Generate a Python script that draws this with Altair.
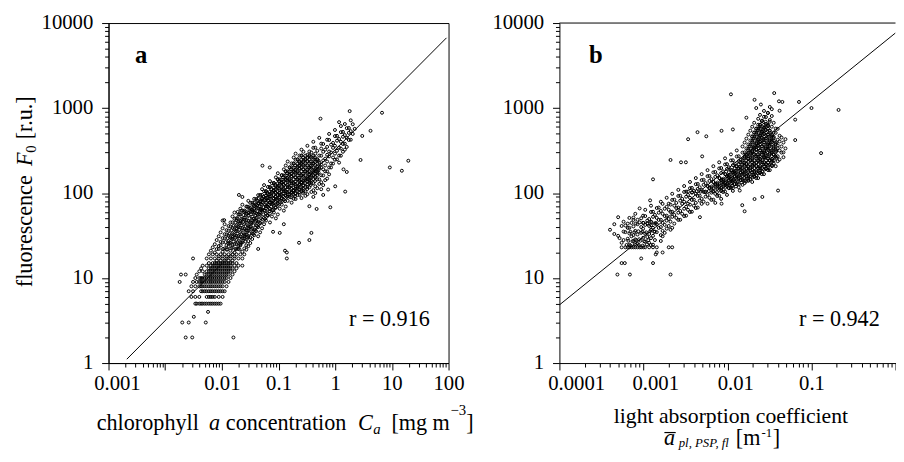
import altair as alt
import pandas as pd

FONT = "Liberation Serif"

# ---------------- data ----------------
# panel a: chlorophyll a concentration C_a [mg m-3] vs fluorescence F0 [r.u.]
pts_a = [
    (0.0023, 2), (0.003, 2), (0.016, 2), (0.002, 3), (0.0026, 3), (0.0052, 3), (0.0032, 3.5), (0.0057, 4),
    (0.0034, 5), (0.0036, 5), (0.004, 5), (0.0043, 5), (0.0046, 5), (0.005, 5), (0.0054, 5), (0.0059, 5), (0.0064, 5), (0.0069, 5), (0.0075, 5), (0.0081, 5), (0.0088, 5), (0.0095, 5),
    (0.0029, 6), (0.0034, 6), (0.004, 6), (0.0054, 6), (0.0064, 6), (0.0075, 6), (0.0088, 6), (0.0103, 6),
    (0.0026, 7), (0.0031, 7), (0.0043, 7), (0.005, 7), (0.0059, 7), (0.0069, 7), (0.0081, 7), (0.0095, 7), (0.0112, 7),
    (0.0029, 8), (0.0034, 8), (0.004, 8), (0.0046, 8), (0.0054, 8), (0.0064, 8), (0.0075, 8), (0.0088, 8), (0.0103, 8), (0.0121, 8),
    (0.0018, 9), (0.0031, 9), (0.0036, 9), (0.0043, 9), (0.005, 9), (0.0059, 9), (0.0069, 9), (0.0081, 9), (0.0095, 9), (0.0112, 9), (0.0131, 9),
    (0.0034, 10), (0.004, 10), (0.0046, 10), (0.0054, 10), (0.0064, 10), (0.0075, 10), (0.0088, 10), (0.0103, 10), (0.0121, 10), (0.0142, 10),
    (0.0019, 11), (0.0023, 11), (0.0036, 11), (0.005, 11), (0.0059, 11), (0.0069, 11), (0.0081, 11), (0.0095, 11), (0.0112, 11), (0.0131, 11), (0.0154, 11),
    (0.004, 12), (0.0046, 12), (0.0054, 12), (0.0064, 12), (0.0075, 12), (0.0088, 12), (0.0103, 12), (0.0121, 12), (0.0142, 12), (0.0167, 12),
    (0.0043, 13), (0.0059, 13), (0.0069, 13), (0.0081, 13), (0.0095, 13), (0.0112, 13), (0.0131, 13), (0.0154, 13), (0.0181, 13),
    (0.0046, 14), (0.0054, 14), (0.0064, 14), (0.0075, 14), (0.0088, 14), (0.0103, 14), (0.0121, 14), (0.0142, 14), (0.0167, 14), (0.0196, 14), (0.023, 14),
    (0.0059, 15), (0.0069, 15), (0.0081, 15), (0.0095, 15), (0.0112, 15), (0.0131, 15), (0.0154, 15), (0.0181, 15),
    (0.0031, 17), (0.0054, 17), (0.0064, 17), (0.0075, 17), (0.0088, 17), (0.0103, 17), (0.0121, 17), (0.0142, 17), (0.0167, 17), (0.0196, 17), (0.023, 17), (0.14, 17),
    (0.0059, 19), (0.0069, 19), (0.0081, 19), (0.0095, 19), (0.0112, 19), (0.0131, 19), (0.0154, 19), (0.0181, 19), (0.0212, 19), (0.0249, 19),
    (0.0064, 21), (0.0075, 20), (0.0088, 22), (0.0103, 20.4), (0.0121, 21.6), (0.0142, 21), (0.0167, 20), (0.0196, 22), (0.023, 20.4), (0.027, 21.6), (0.0437, 22), (0.13, 21), (0.14, 20),
    (0.0069, 23), (0.0081, 21.9), (0.0095, 24.2), (0.0112, 22.3), (0.0131, 23.7), (0.0154, 23), (0.0181, 21.9), (0.0212, 24.2), (0.0249, 22.3), (0.0293, 23.7),
    (0.0075, 25), (0.0088, 23.8), (0.0103, 26.3), (0.0121, 24.3), (0.0142, 25.8), (0.0167, 25), (0.0196, 23.8), (0.023, 26.3), (0.027, 24.3), (0.0317, 25.8), (0.23, 26),
    (0.0081, 28), (0.0095, 26.6), (0.0112, 29.4), (0.0131, 27.2), (0.0154, 28.8), (0.0181, 28), (0.0212, 26.6), (0.0249, 29.4), (0.0293, 27.2), (0.0343, 28.8), (0.35, 28),
    (0.0088, 31), (0.0103, 29.5), (0.0121, 32.6), (0.0142, 30.1), (0.0167, 31.9), (0.0196, 31), (0.023, 29.5), (0.027, 32.6), (0.0317, 30.1), (0.0372, 31.9), (0.0437, 31),
    (0.0095, 34.5), (0.0112, 32.8), (0.0131, 36.2), (0.0154, 33.5), (0.0181, 35.5), (0.0212, 34.5), (0.0249, 32.8), (0.0293, 36.2), (0.0343, 33.5), (0.0403, 35.5), (0.0473, 34.5), (0.08, 35), (0.105, 34), (0.38, 34),
    (0.0103, 38.5), (0.0121, 36.6), (0.0142, 40.4), (0.0167, 37.3), (0.0196, 39.7), (0.023, 38.5), (0.027, 36.6), (0.0317, 40.4), (0.0372, 37.3), (0.0437, 39.7), (0.0512, 38.5),
    (0.0112, 43), (0.0131, 40.9), (0.0154, 45.2), (0.0181, 41.7), (0.0212, 44.3), (0.0249, 43), (0.0293, 40.9), (0.0343, 45.2), (0.0403, 41.7), (0.0473, 44.3), (0.0555, 43), (0.124, 43),
    (0.0103, 47.5), (0.0142, 45.1), (0.0167, 49.9), (0.0196, 46.1), (0.023, 48.9), (0.027, 47.5), (0.0317, 45.1), (0.0372, 49.9), (0.0437, 46.1), (0.0512, 48.9), (0.0601, 47.5), (0.0706, 45.1), (0.011, 48),
    (0.0154, 53), (0.0181, 50.4), (0.0212, 55.7), (0.0249, 51.4), (0.0293, 54.6), (0.0343, 53), (0.0403, 50.4), (0.0473, 55.7), (0.0555, 51.4), (0.0651, 54.6), (0.0765, 53), (0.0897, 50.4),
    (0.0167, 59), (0.0196, 56), (0.023, 62), (0.027, 57.2), (0.0317, 60.8), (0.0372, 59), (0.0437, 56), (0.0512, 62), (0.0601, 57.2), (0.0706, 60.8), (0.0828, 59), (0.0972, 56), (0.019, 60),
    (0.0212, 65.5), (0.0249, 62.2), (0.0293, 68.8), (0.0343, 63.5), (0.0403, 67.5), (0.0473, 65.5), (0.0555, 62.2), (0.0651, 68.8), (0.0765, 63.5), (0.0897, 67.5), (0.105, 65.5), (0.124, 62.2), (0.47, 65),
    (0.023, 73), (0.027, 69.4), (0.0317, 76.7), (0.0372, 70.8), (0.0437, 75.2), (0.0512, 73), (0.0601, 69.4), (0.0706, 76.7), (0.0828, 70.8), (0.0972, 75.2), (0.114, 73), (0.134, 69.4), (0.35, 70), (0.82, 68),
    (0.0293, 81), (0.0343, 77), (0.0403, 85), (0.0473, 78.6), (0.0555, 83.4), (0.0651, 81), (0.0765, 77), (0.0897, 85), (0.105, 78.6), (0.124, 83.4), (0.145, 81), (0.17, 77), (0.2, 85),
    (0.023, 90), (0.0372, 85.5), (0.0437, 94.5), (0.0512, 87.3), (0.0601, 92.7), (0.0706, 90), (0.0828, 85.5), (0.0972, 94.5), (0.114, 87.3), (0.134, 92.7), (0.157, 90), (0.185, 85.5), (0.217, 94.5), (0.254, 87.3), (0.298, 92.7), (0.411, 90),
    (0.02, 95), (0.0473, 95), (0.0555, 105), (0.0651, 97), (0.0765, 103), (0.0897, 100), (0.105, 95), (0.124, 105), (0.145, 97), (0.17, 103), (0.2, 100), (0.235, 95), (0.275, 105), (0.323, 97), (0.379, 103), (0.445, 100), (0.614, 95),
    (0.0512, 111), (0.0601, 105), (0.0706, 117), (0.0828, 108), (0.0972, 114), (0.114, 111), (0.134, 105), (0.157, 117), (0.185, 108), (0.217, 114), (0.254, 111), (0.298, 105), (0.35, 117), (0.411, 108), (0.483, 114), (0.566, 111), (0.75, 110), (1.5, 104),
    (0.0555, 124), (0.0651, 118), (0.0765, 130), (0.0897, 120), (0.105, 128), (0.124, 124), (0.145, 118), (0.17, 130), (0.2, 120), (0.235, 128), (0.275, 124), (0.323, 118), (0.379, 130), (0.445, 120), (0.523, 128), (0.614, 124), (1.0, 120),
    (0.0706, 138), (0.0828, 131), (0.0972, 145), (0.114, 134), (0.134, 142), (0.157, 138), (0.185, 131), (0.217, 145), (0.254, 134), (0.298, 142), (0.35, 138), (0.411, 131), (0.483, 145), (0.566, 134), (0.665, 142),
    (0.0897, 153), (0.105, 145), (0.124, 161), (0.145, 148), (0.17, 158), (0.2, 153), (0.235, 145), (0.275, 161), (0.323, 148), (0.379, 158), (0.445, 153), (0.523, 145), (0.614, 161), (0.72, 148),
    (0.0972, 171), (0.114, 162), (0.134, 180), (0.157, 166), (0.185, 176), (0.217, 171), (0.254, 162), (0.298, 180), (0.35, 166), (0.411, 176), (0.483, 171), (0.566, 162), (0.665, 180), (0.78, 166), (1.6, 177),
    (0.124, 190), (0.145, 180), (0.17, 200), (0.2, 184), (0.235, 196), (0.275, 190), (0.323, 180), (0.379, 200), (0.445, 184), (0.523, 196), (0.614, 190), (0.72, 180), (0.845, 200), (1.4, 190), (15, 183), (9.2, 200), (0.07, 200), (0.052, 210),
    (0.134, 211), (0.157, 200), (0.185, 222), (0.217, 205), (0.254, 217), (0.298, 211), (0.35, 200), (0.411, 222), (0.483, 205), (0.566, 217), (0.665, 211), (0.78, 200), (0.916, 222),
    (0.145, 235), (0.17, 223), (0.2, 247), (0.235, 228), (0.275, 242), (0.323, 235), (0.379, 223), (0.445, 247), (0.523, 228), (0.614, 242), (0.72, 235), (0.845, 223), (0.99, 247), (1.17, 228), (2.8, 245), (19.5, 240),
    (0.185, 262), (0.217, 249), (0.254, 275), (0.298, 254), (0.35, 270), (0.411, 262), (0.483, 249), (0.566, 275), (0.665, 254), (0.78, 270), (0.916, 262), (1.075, 249), (1.26, 275),
    (0.2, 291), (0.235, 276), (0.275, 306), (0.323, 282), (0.379, 300), (0.445, 291), (0.523, 276), (0.614, 306), (0.72, 282), (0.845, 300), (0.99, 291), (1.17, 276), (1.37, 306),
    (0.254, 324), (0.35, 308), (0.411, 340), (0.483, 314), (0.566, 334), (0.665, 324), (0.78, 308), (0.916, 340), (1.075, 314), (1.26, 334), (1.48, 324),
    (0.323, 360), (0.445, 342), (0.614, 378), (0.72, 349), (0.845, 371), (0.99, 360), (1.17, 342), (1.37, 378), (1.6, 349),
    (0.411, 401), (0.566, 381), (0.78, 421), (0.916, 389), (1.075, 413), (1.26, 401), (1.48, 381), (1.74, 421),
    (0.523, 446), (0.72, 424), (0.99, 468), (1.17, 433), (1.37, 459), (1.6, 446), (1.88, 424), (3.0, 470),
    (0.78, 496), (1.075, 471), (1.26, 521), (1.48, 481), (1.74, 511), (2.04, 496),
    (0.99, 552), (1.37, 524), (1.6, 580), (1.88, 535), (2.21, 569), (4.2, 540),
    (1.26, 614), (1.74, 583), (2.04, 645), (1.17, 683), (1.48, 649), (1.88, 717),
    (0.55, 750), (6.7, 880), (1.8, 920),
]
# panel a: points of the dark (overlapping) core of the cloud
pts_a_core = [
    (0.0059, 6), (0.0069, 6),
    (0.0046, 7), (0.0054, 7), (0.0064, 7), (0.0075, 7), (0.0088, 7), (0.0103, 7),
    (0.0043, 8), (0.005, 8), (0.0059, 8), (0.0069, 8), (0.0081, 8), (0.0095, 8),
    (0.004, 9), (0.0046, 9), (0.0054, 9), (0.0064, 9), (0.0075, 9), (0.0088, 9), (0.0103, 9),
    (0.0043, 10), (0.005, 10), (0.0059, 10), (0.0069, 10), (0.0081, 10), (0.0095, 10), (0.0112, 10),
    (0.0054, 11), (0.0064, 11), (0.0075, 11), (0.0088, 11), (0.0103, 11), (0.0121, 11),
    (0.0059, 12), (0.0069, 12), (0.0081, 12), (0.0095, 12), (0.0112, 12), (0.0131, 12),
    (0.0064, 13), (0.0075, 13), (0.0088, 13), (0.0103, 13), (0.0121, 13), (0.0142, 13),
    (0.0069, 14), (0.0081, 14), (0.0095, 14), (0.0112, 14), (0.0131, 14),
    (0.0075, 15), (0.0088, 15), (0.0103, 15), (0.0121, 15), (0.0142, 15),
    (0.0081, 16), (0.0095, 16), (0.0112, 16), (0.0131, 16), (0.0154, 16),
    (0.0088, 18), (0.0103, 18), (0.0121, 18), (0.0142, 18), (0.0167, 18),
    (0.0131, 25.5), (0.0154, 24.5), (0.0181, 25.2), (0.0212, 24.8),
    (0.0131, 31.5), (0.0154, 30.5), (0.0181, 31.2), (0.0212, 30.8), (0.0249, 31.5), (0.0293, 30.5),
    (0.0154, 39), (0.0181, 38), (0.0212, 39.3), (0.0249, 37.8), (0.0293, 39), (0.0343, 38),
    (0.0181, 48), (0.0212, 47), (0.0249, 48.5), (0.0293, 46.8), (0.0343, 48), (0.0403, 47),
    (0.0249, 59.5), (0.0293, 58.5), (0.0343, 60), (0.0403, 58), (0.0473, 59.5),
    (0.0317, 66), (0.0372, 65), (0.0437, 66.5), (0.0512, 64.5), (0.0601, 66), (0.0706, 65),
    (0.0372, 77), (0.0437, 76), (0.0512, 78), (0.0601, 76.5), (0.0706, 77.5), (0.0828, 77), (0.0972, 76),
    (0.0437, 86), (0.0512, 85), (0.0601, 87), (0.0706, 85.5), (0.0828, 86.5), (0.0972, 86), (0.114, 85),
    (0.0512, 95), (0.0601, 94), (0.0706, 96), (0.0828, 94.5), (0.0972, 95.5), (0.114, 95), (0.134, 94), (0.157, 96), (0.185, 95),
    (0.0601, 105), (0.0706, 104), (0.0828, 106), (0.0972, 104.5), (0.114, 105.5), (0.134, 105), (0.157, 104), (0.185, 106), (0.217, 104.5), (0.254, 105.5),
    (0.0706, 117), (0.0828, 116), (0.0972, 118), (0.114, 116.5), (0.134, 117.5), (0.157, 117), (0.185, 116), (0.217, 118), (0.254, 116.5), (0.298, 117.5),
    (0.0828, 131), (0.0972, 130), (0.114, 132), (0.134, 130.5), (0.157, 131.5), (0.185, 131), (0.217, 130), (0.254, 132), (0.298, 130.5), (0.35, 131.5),
    (0.0972, 145), (0.114, 144), (0.134, 146), (0.157, 144.5), (0.185, 145.5), (0.217, 145), (0.254, 144), (0.298, 146), (0.35, 144.5), (0.411, 145.5),
    (0.114, 162), (0.134, 161), (0.157, 163), (0.185, 161.5), (0.217, 162.5), (0.254, 162), (0.298, 161), (0.35, 163), (0.411, 161.5), (0.483, 162.5),
    (0.134, 180), (0.157, 179), (0.185, 181), (0.217, 179.5), (0.254, 180.5), (0.298, 180), (0.35, 179), (0.411, 181), (0.483, 179.5),
    (0.157, 200), (0.185, 199), (0.217, 201), (0.254, 199.5), (0.298, 200.5), (0.35, 200), (0.411, 199), (0.483, 201), (0.566, 199.5),
    (0.185, 223), (0.217, 222), (0.254, 224), (0.298, 222.5), (0.35, 223.5), (0.411, 223), (0.483, 222),
    (0.217, 248), (0.254, 247), (0.298, 249), (0.35, 247.5), (0.411, 248.5), (0.483, 248),
    (0.254, 276), (0.298, 275), (0.35, 277), (0.411, 275.5),
    # densest parts, between the rows above
    (0.0105, 22), (0.0125, 21.7), (0.0147, 22.3), (0.0174, 22), (0.0205, 21.7),
    (0.0116, 26.5), (0.0136, 26.1), (0.016, 26.9), (0.0188, 26.5), (0.022, 26.1), (0.026, 26.9),
    (0.0126, 29.5), (0.0148, 29.1), (0.0174, 29.9), (0.0204, 29.5), (0.024, 29.1), (0.028, 29.9),
    (0.0136, 33), (0.016, 32.5), (0.0188, 33.5), (0.022, 33), (0.026, 32.5), (0.0305, 33.5), (0.036, 33),
    (0.0148, 36.5), (0.0174, 36), (0.0204, 37), (0.024, 36.5), (0.028, 36), (0.033, 37), (0.039, 36.5),
    (0.016, 41), (0.0188, 40.4), (0.022, 41.6), (0.026, 41), (0.0305, 40.4), (0.036, 41.6), (0.042, 41),
    (0.0174, 45), (0.0204, 44.3), (0.024, 45.7), (0.028, 45), (0.033, 44.3), (0.039, 45.7), (0.046, 45),
    (0.0188, 50.5), (0.022, 49.7), (0.026, 51.3), (0.0305, 50.5), (0.036, 49.7), (0.042, 51.3), (0.049, 50.5), (0.058, 49.7),
    (0.0204, 56), (0.024, 55.2), (0.028, 56.8), (0.033, 56), (0.039, 55.2), (0.046, 56.8), (0.054, 56), (0.063, 55.2),
    (0.022, 62), (0.026, 61), (0.0305, 63), (0.036, 62), (0.042, 61), (0.049, 63), (0.058, 62), (0.068, 61), (0.08, 63),
    (0.028, 69), (0.033, 68), (0.039, 70), (0.046, 69), (0.054, 68), (0.063, 70), (0.074, 69), (0.087, 68),
    (0.036, 73.5), (0.042, 72.5), (0.049, 74.5), (0.058, 73.5), (0.068, 72.5), (0.08, 74.5), (0.094, 73.5),
    (0.042, 81.5), (0.049, 80.3), (0.058, 82.7), (0.068, 81.5), (0.08, 80.3), (0.094, 82.7), (0.11, 81.5), (0.13, 80.3),
    (0.054, 90.5), (0.063, 89), (0.074, 92), (0.087, 90.5), (0.102, 89), (0.12, 92), (0.141, 90.5), (0.166, 89), (0.195, 92),
    (0.063, 100.5), (0.074, 99), (0.087, 102), (0.102, 100.5), (0.12, 99), (0.141, 102), (0.166, 100.5), (0.195, 99), (0.23, 102), (0.27, 100.5),
    (0.074, 111.5), (0.087, 110), (0.102, 113), (0.12, 111.5), (0.141, 110), (0.166, 113), (0.195, 111.5), (0.23, 110), (0.27, 113), (0.32, 111.5),
    (0.087, 124.5), (0.102, 122.6), (0.12, 126.4), (0.141, 124.5), (0.166, 122.6), (0.195, 126.4), (0.23, 124.5), (0.27, 122.6), (0.32, 126.4), (0.37, 124.5),
    (0.102, 138.5), (0.12, 136.4), (0.141, 140.6), (0.166, 138.5), (0.195, 136.4), (0.23, 140.6), (0.27, 138.5), (0.32, 136.4), (0.37, 140.6), (0.44, 138.5),
    (0.12, 153.5), (0.141, 151.2), (0.166, 155.8), (0.195, 153.5), (0.23, 151.2), (0.27, 155.8), (0.32, 153.5), (0.37, 151.2), (0.44, 155.8),
    (0.141, 171.5), (0.166, 169), (0.195, 174), (0.23, 171.5), (0.27, 169), (0.32, 174), (0.37, 171.5), (0.44, 169), (0.51, 174),
    (0.166, 190.5), (0.195, 187.6), (0.23, 193.4), (0.27, 190.5), (0.32, 187.6), (0.37, 193.4), (0.44, 190.5), (0.51, 187.6),
    (0.195, 211.5), (0.23, 208.3), (0.27, 214.7), (0.32, 211.5), (0.37, 208.3), (0.44, 214.7),
    (0.23, 235.5), (0.27, 232), (0.32, 239), (0.37, 235.5), (0.44, 232), (0.51, 239),
    (0.27, 262), (0.32, 258), (0.37, 266), (0.44, 262),
]

# panel b: light absorption coefficient a_pl,PSP,fl [m-1] vs fluorescence F0 [r.u.]
pts_b = [
    (0.00049, 11), (0.00069, 11), (0.0021, 11), (0.00055, 15), (0.0006, 15), (0.0013, 15), (0.00094, 17), (0.0014, 19), (0.00144, 20), (0.00169, 20),
    (0.00055, 23), (0.00061, 23), (0.00065, 23), (0.00068, 23), (0.00072, 23), (0.00076, 23), (0.0008, 23), (0.00085, 23), (0.0009, 23), (0.00094, 23), (0.001, 23), (0.00105, 23), (0.00117, 23), (0.0013, 23), (0.00144, 23), (0.002, 23), (0.0022, 23),
    (0.00055, 26), (0.00068, 24.7), (0.00076, 27.3), (0.00085, 25.2), (0.00105, 26.8), (0.00117, 26), (0.0013, 24.7), (0.00161, 27.3),
    (0.00052, 29.5), (0.00058, 28), (0.00072, 31), (0.00089, 28.6), (0.00111, 30.4), (0.00123, 29.5), (0.00137, 28), (0.00169, 31),
    (0.00045, 33), (0.0005, 31.4), (0.00061, 34.7), (0.00076, 32), (0.00094, 34), (0.00117, 33), (0.0013, 31.4), (0.00144, 34.7), (0.00161, 32), (0.00179, 34),
    (0.0004, 37), (0.00058, 35.2), (0.00065, 38.9), (0.0008, 35.9), (0.00099, 38.1), (0.00123, 37), (0.00137, 35.2), (0.00152, 38.9), (0.00169, 35.9), (0.00189, 38.1), (0.0021, 37),
    (0.00055, 41), (0.00068, 39), (0.00085, 43), (0.00094, 39.8), (0.00105, 42.2), (0.00117, 41), (0.0013, 39), (0.00144, 43), (0.00161, 39.8), (0.00179, 42.2), (0.002, 41), (0.0022, 39),
    (0.00045, 43), (0.00058, 46), (0.00065, 43.7), (0.00076, 48.3), (0.00099, 44.6), (0.00111, 47.4), (0.00123, 46), (0.00137, 43.7), (0.00152, 48.3), (0.00169, 44.6), (0.00189, 47.4), (0.0021, 46), (0.00233, 43.7), (0.0026, 48.3),
    (0.0005, 52), (0.00068, 51), (0.00085, 48.5), (0.00105, 53.6), (0.00117, 49.5), (0.0013, 52.5), (0.00144, 51), (0.00161, 48.5), (0.00179, 53.6), (0.002, 49.5), (0.0022, 52.5), (0.00246, 51), (0.00274, 48.5), (0.00305, 53.6), (0.0047, 52),
    (0.0008, 57), (0.00099, 54.2), (0.00123, 59.9), (0.00137, 55.3), (0.00152, 58.7), (0.00169, 57), (0.00189, 54.2), (0.0021, 59.9), (0.00233, 55.3), (0.0026, 58.7), (0.00289, 57), (0.00322, 54.2), (0.00358, 59.9),
    (0.0009, 66), (0.00105, 63.5), (0.0013, 60.3), (0.00144, 66.7), (0.00161, 61.6), (0.00179, 65.4), (0.002, 63.5), (0.0022, 60.3), (0.00246, 66.7), (0.00274, 61.6), (0.00305, 65.4), (0.00339, 63.5), (0.00377, 60.3), (0.0042, 66.7), (0.016, 61),
    (0.00123, 71), (0.00152, 67.5), (0.00169, 74.6), (0.00189, 68.9), (0.0021, 73.1), (0.00233, 71), (0.0026, 67.5), (0.00289, 74.6), (0.00322, 68.9), (0.00358, 73.1), (0.00398, 71), (0.00443, 67.5), (0.00493, 74.6), (0.015, 72),
    (0.00161, 79), (0.002, 75), (0.0022, 83), (0.00246, 76.6), (0.00274, 81.4), (0.00305, 79), (0.00339, 75), (0.00377, 83), (0.0042, 76.6), (0.00467, 81.4), (0.0052, 79), (0.00579, 75), (0.00644, 83), (0.00716, 76.6), (0.0085, 75),
    (0.0012, 82), (0.00189, 88), (0.00233, 83.6), (0.0026, 92.4), (0.00289, 85.4), (0.00322, 90.6), (0.00358, 88), (0.00398, 83.6), (0.00443, 92.4), (0.00493, 85.4), (0.00549, 90.6), (0.0061, 88), (0.00679, 83.6), (0.00756, 92.4), (0.00841, 85.4), (0.021, 85), (0.026, 90),
    (0.0022, 98), (0.00274, 93.1), (0.00305, 103), (0.00339, 95.1), (0.00377, 101), (0.0042, 98), (0.00467, 93.1), (0.0052, 103), (0.00579, 95.1), (0.00644, 101), (0.00716, 98), (0.00797, 93.1), (0.00887, 103), (0.00987, 95.1),
    (0.0026, 109), (0.00322, 104), (0.00358, 114), (0.00398, 106), (0.00443, 112), (0.00493, 109), (0.00549, 104), (0.0061, 114), (0.00679, 106), (0.00756, 112), (0.00841, 109), (0.00936, 104), (0.0104, 114), (0.0116, 106), (0.014, 107), (0.04, 107),
    (0.00305, 121), (0.00377, 115), (0.0042, 127), (0.00467, 117), (0.0052, 125), (0.00579, 121), (0.00644, 115), (0.00716, 127), (0.00797, 117), (0.00887, 125), (0.00987, 121), (0.011, 115), (0.0122, 127), (0.0136, 117), (0.0151, 125),
    (0.00358, 135), (0.00443, 128), (0.00493, 142), (0.00549, 131), (0.0061, 139), (0.00679, 135), (0.00756, 128), (0.00841, 142), (0.00936, 131), (0.0104, 139), (0.0116, 135), (0.0129, 128), (0.0144, 142), (0.016, 131), (0.0177, 139), (0.0197, 135),
    (0.0013, 145), (0.0042, 150), (0.0052, 143), (0.00579, 158), (0.00644, 146), (0.00716, 155), (0.00797, 150), (0.00887, 143), (0.00987, 158), (0.011, 146), (0.0122, 155), (0.0136, 150), (0.0151, 143), (0.0168, 158), (0.0187, 146), (0.0208, 155), (0.0232, 150),
    (0.00493, 167), (0.0061, 159), (0.00679, 175), (0.00756, 162), (0.00841, 172), (0.00936, 167), (0.0104, 159), (0.0116, 175), (0.0129, 162), (0.0144, 172), (0.016, 167), (0.0177, 159), (0.0197, 175), (0.022, 162), (0.0244, 172), (0.0272, 167),
    (0.00579, 186), (0.00716, 177), (0.00797, 195), (0.00887, 180), (0.00987, 192), (0.011, 186), (0.0122, 177), (0.0136, 195), (0.0151, 180), (0.0168, 192), (0.0187, 186), (0.0208, 177), (0.0232, 195), (0.0258, 180), (0.0287, 192), (0.0319, 186),
    (0.00679, 207), (0.00841, 197), (0.00936, 217), (0.0104, 201), (0.0116, 213), (0.0129, 207), (0.0144, 197), (0.016, 217), (0.0177, 201), (0.0197, 213), (0.022, 207), (0.0244, 197), (0.0272, 217), (0.0303, 201), (0.0337, 213), (0.0375, 207),
    (0.0028, 230), (0.0032, 230), (0.00797, 230), (0.00987, 219), (0.011, 242), (0.0122, 223), (0.0136, 237), (0.0151, 230), (0.0168, 219), (0.0187, 242), (0.0208, 223), (0.0232, 237), (0.0258, 230), (0.0287, 219), (0.0319, 242), (0.0355, 223), (0.0396, 237),
    (0.0021, 245), (0.00936, 256), (0.0116, 243), (0.0129, 269), (0.0144, 248), (0.016, 264), (0.0177, 256), (0.0197, 243), (0.022, 269), (0.0244, 248), (0.0272, 264), (0.0303, 256), (0.0337, 243), (0.0375, 269), (0.0417, 248), (0.0464, 264),
    (0.005, 270), (0.011, 285), (0.0136, 271), (0.0151, 299), (0.0168, 276), (0.0187, 294), (0.0208, 285), (0.0232, 271), (0.0258, 299), (0.0287, 276), (0.0319, 294), (0.0355, 285), (0.0396, 271), (0.044, 299), (0.037, 270), (0.13, 295),
    (0.0129, 317), (0.016, 301), (0.0177, 333), (0.0197, 307), (0.022, 327), (0.0244, 317), (0.0272, 301), (0.0303, 333), (0.0337, 307), (0.0375, 327), (0.0417, 317), (0.0464, 301),
    (0.0151, 353), (0.0168, 335), (0.0187, 371), (0.0208, 342), (0.0232, 364), (0.0258, 353), (0.0287, 335), (0.0319, 371), (0.0355, 342), (0.0396, 364), (0.044, 353), (0.049, 335),
    (0.016, 393), (0.0177, 373), (0.0197, 413), (0.022, 381), (0.0244, 405), (0.0272, 393), (0.0303, 373), (0.0337, 413), (0.0375, 381), (0.0417, 405), (0.0464, 393),
    (0.0034, 430), (0.0168, 437), (0.0187, 415), (0.0208, 459), (0.0232, 424), (0.0258, 450), (0.0287, 437), (0.0319, 415), (0.0355, 459), (0.0396, 424), (0.044, 450), (0.049, 430), (0.064, 420),
    (0.0056, 465), (0.0177, 487), (0.0197, 463), (0.022, 511), (0.0244, 472), (0.0272, 502), (0.0303, 487), (0.0337, 463), (0.0375, 511), (0.0417, 472),
    (0.0044, 520), (0.0085, 540), (0.0116, 560), (0.0187, 542), (0.0208, 515), (0.0232, 569), (0.0258, 526), (0.0287, 558), (0.0319, 542), (0.0355, 515), (0.0396, 569),
    (0.0197, 603), (0.022, 573), (0.0244, 633), (0.0272, 585), (0.0303, 621), (0.0337, 603), (0.0375, 573),
    (0.0208, 671), (0.0232, 637), (0.0258, 705), (0.0287, 651), (0.0319, 691), (0.0355, 671),
    (0.0168, 770), (0.0232, 747), (0.0258, 710), (0.0287, 784), (0.0319, 725), (0.064, 730),
    (0.0244, 831), (0.0272, 789), (0.0303, 873), (0.0337, 806),
    (0.0272, 925), (0.0303, 879), (0.0337, 971), (0.0417, 930),
    (0.022, 1000), (0.0319, 1030), (0.1, 1000), (0.025, 1100),
    (0.011, 1450), (0.036, 1500), (0.021, 1250), (0.045, 1180), (0.041, 1200), (0.071, 1180), (0.21, 950),
]
# panel b: points of the dark (overlapping) core of the cloud
pts_b_core = [
    (0.00065, 29), (0.0008, 28.5), (0.00099, 29.8), (0.00068, 33.5), (0.00085, 32.5), (0.00105, 33.2),
    (0.00061, 41.5), (0.00076, 40.5), (0.00076, 51.5), (0.00094, 50.5), (0.00111, 44), (0.00123, 41.8),
    (0.0061, 115), (0.00679, 114), (0.00756, 116), (0.00841, 114.5), (0.00936, 115.5), (0.0104, 115), (0.0116, 114),
    (0.00716, 128), (0.00797, 127), (0.00887, 129), (0.00987, 127.5), (0.011, 128.5), (0.0122, 128), (0.0136, 127),
    (0.00841, 142), (0.00936, 141), (0.0104, 143), (0.0116, 141.5), (0.0129, 142.5), (0.0144, 142), (0.016, 141), (0.0177, 143),
    (0.00987, 158), (0.011, 157), (0.0122, 159), (0.0136, 157.5), (0.0151, 158.5), (0.0168, 158), (0.0187, 157), (0.0208, 159),
    (0.0104, 176), (0.0116, 175), (0.0129, 177), (0.0144, 175.5), (0.016, 176.5), (0.0177, 176), (0.0197, 175), (0.022, 177), (0.0244, 175.5),
    (0.0122, 196), (0.0136, 195), (0.0151, 197), (0.0168, 195.5), (0.0187, 196.5), (0.0208, 196), (0.0232, 195), (0.0258, 197), (0.0287, 195.5),
    (0.0136, 218), (0.0151, 217), (0.0168, 219), (0.0187, 217.5), (0.0208, 218.5), (0.0232, 218), (0.0258, 217), (0.0287, 219), (0.0319, 217.5),
    (0.0151, 243), (0.0168, 242), (0.0187, 244), (0.0208, 242.5), (0.0232, 243.5), (0.0258, 243), (0.0287, 242), (0.0319, 244), (0.0355, 242.5),
    (0.016, 270), (0.0177, 269), (0.0197, 271), (0.022, 269.5), (0.0244, 270.5), (0.0272, 270), (0.0303, 269), (0.0337, 271),
    (0.0177, 300), (0.0197, 299), (0.022, 301), (0.0244, 299.5), (0.0272, 300.5), (0.0303, 300), (0.0337, 299), (0.0375, 301),
    (0.0187, 335), (0.0208, 334), (0.0232, 336), (0.0258, 334.5), (0.0287, 335.5), (0.0319, 335), (0.0355, 334), (0.0396, 336),
    (0.0197, 373), (0.022, 372), (0.0244, 374), (0.0272, 372.5), (0.0303, 373.5), (0.0337, 373), (0.0375, 372),
    (0.0208, 415), (0.0232, 414), (0.0258, 416), (0.0287, 414.5), (0.0319, 415.5), (0.0355, 415),
    (0.0197, 462), (0.022, 461), (0.0244, 463), (0.0272, 461.5), (0.0303, 462.5), (0.0337, 462),
    (0.0208, 514), (0.0232, 513), (0.0258, 515), (0.0287, 513.5), (0.0319, 514.5),
    (0.022, 572), (0.0244, 571), (0.0272, 573), (0.0303, 571.5),
    (0.0244, 636), (0.0272, 635), (0.0303, 637),
    # densest parts, between the rows above
    (0.00063, 24.5), (0.0007, 24.1), (0.00079, 24.9), (0.00088, 24.5), (0.00098, 24.1), (0.0011, 24.9), (0.00122, 24.5),
    (0.00066, 27.5), (0.00074, 27.1), (0.00082, 27.9), (0.00092, 27.5), (0.00102, 27.1), (0.00114, 27.9),
    (0.0007, 35), (0.00078, 34.5), (0.00087, 35.5), (0.00097, 35), (0.00108, 34.5), (0.0012, 35.5), (0.00134, 35),
    (0.00072, 44.5), (0.00081, 43.8), (0.0009, 45.2), (0.001, 44.5), (0.00112, 43.8), (0.00125, 45.2), (0.0014, 44.5),
    (0.0034, 104), (0.0038, 102.5), (0.0043, 105.5), (0.0048, 104), (0.0054, 102.5), (0.006, 105.5), (0.0067, 104), (0.0075, 102.5), (0.0084, 105.5),
    (0.0058, 121.5), (0.0065, 119.7), (0.0072, 123.3), (0.0081, 121.5), (0.009, 119.7), (0.0101, 123.3), (0.0113, 121.5), (0.0126, 119.7),
    (0.0068, 135), (0.0076, 133), (0.0085, 137), (0.0095, 135), (0.0106, 133), (0.0118, 137), (0.0132, 135), (0.0147, 133), (0.0165, 137),
    (0.0081, 150), (0.009, 147.8), (0.0101, 152.2), (0.0113, 150), (0.0126, 147.8), (0.0141, 152.2), (0.0158, 150), (0.0176, 147.8), (0.0197, 152.2), (0.022, 150),
    (0.0095, 167), (0.0106, 164.5), (0.0118, 169.5), (0.0132, 167), (0.0147, 164.5), (0.0165, 169.5), (0.0184, 167), (0.0205, 164.5), (0.023, 169.5), (0.0256, 167),
    (0.0113, 186), (0.0126, 183.2), (0.0141, 188.8), (0.0158, 186), (0.0176, 183.2), (0.0197, 188.8), (0.022, 186), (0.0245, 183.2), (0.0274, 188.8), (0.0305, 186),
    (0.0126, 207), (0.0141, 204), (0.0158, 210), (0.0176, 207), (0.0197, 204), (0.022, 210), (0.0245, 207), (0.0274, 204), (0.0305, 210), (0.034, 207),
    (0.0141, 230), (0.0158, 226.6), (0.0176, 233.4), (0.0197, 230), (0.022, 226.6), (0.0245, 233.4), (0.0274, 230), (0.0305, 226.6), (0.034, 233.4),
    (0.0158, 256), (0.0176, 252.2), (0.0197, 259.8), (0.022, 256), (0.0245, 252.2), (0.0274, 259.8), (0.0305, 256), (0.034, 252.2), (0.038, 259.8),
    (0.0165, 285), (0.0184, 280.8), (0.0205, 289.2), (0.023, 285), (0.0256, 280.8), (0.0285, 289.2), (0.0318, 285), (0.0355, 280.8),
    (0.0176, 317), (0.0197, 312.3), (0.022, 321.7), (0.0245, 317), (0.0274, 312.3), (0.0305, 321.7), (0.034, 317), (0.038, 312.3),
    (0.0184, 353), (0.0205, 347.8), (0.023, 358.2), (0.0256, 353), (0.0285, 347.8), (0.0318, 358.2), (0.0355, 353),
    (0.0197, 393), (0.022, 387.2), (0.0245, 398.8), (0.0274, 393), (0.0305, 387.2), (0.034, 398.8), (0.038, 393),
    (0.0205, 437), (0.023, 430.5), (0.0256, 443.5), (0.0285, 437), (0.0318, 430.5), (0.0355, 443.5),
    (0.022, 487), (0.0245, 479.8), (0.0274, 494.2), (0.0305, 487), (0.034, 479.8),
    (0.023, 542), (0.0256, 534), (0.0285, 550), (0.0318, 542),
    (0.0245, 603), (0.0274, 594), (0.0305, 612),
    (0.0256, 700), (0.0285, 690),
]

# regression lines (end points)
line_a_x = [0.00021, 92.0]
line_a_y = [1.11, 6700.0]
line_b_x = [0.0001, 1.0]
line_b_y = [4.83, 7650.0]

# panel tags and correlation coefficients (placed in data units)
tag_a, tag_a_x, tag_a_y = ["a"], [0.000375], [3350]
tag_b, tag_b_x, tag_b_y = ["b"], [0.000271], [3350]
r_a, r_a_x, r_a_y = ["r = 0.916"], [46.7], [2.76]
r_b, r_b_x, r_b_y = ["r = 0.942"], [0.65], [2.76]

# axis tick labels
x_a_label_vals = [0.001, 0.01, 0.1, 1, 10, 100]
x_a_label_text = ["0.001", "0.01", "0.1", "1", "10", "100"]
x_b_label_vals = [0.0001, 0.001, 0.01, 0.1]
x_b_label_text = ["0.0001", "0.001", "0.01", "0.1"]
y_label_vals = [1, 10, 100, 1000, 10000]
y_label_text = ["1", "10", "100", "1000", "10000"]

# axis title texts
ytitle_parts = ["fluorescence", "F", "0", "[r.u.]"]
xtitle_a_parts = ["chlorophyll", "a", "concentration", "C", "a", "[mg m", "\u22123", "]"]
xtitle_b_line1 = "light absorption coefficient"
xtitle_b_parts = ["a", "pl, PSP, fl", "[m", "-1", "]"]

# ---------------- helpers ----------------
MAJOR = "abs(log(datum.value) / LN10 - round(log(datum.value) / LN10)) < 0.001"
W_A, W_B, H = 345, 341, 345


def log_ticks(e0, e1):
    out = []
    for e in range(e0, e1):
        for k in range(1, 10):
            out.append(float(f"{k}e{e}"))
    out.append(float(f"1e{e1}"))
    return out


def lab_expr(vals, texts):
    s = "''"
    for v, t in zip(reversed(vals), reversed(texts)):
        s = f"abs(datum.value / {v!r} - 1) < 0.001 ? '{t}' : {s}"
    return s


def is_val(v):
    return f"abs(datum.value / {v!r} - 1) < 0.001"


def make_axis(vals, lvals, ltext, pad, offset=None):
    kw = dict(
        values=vals, labelExpr=lab_expr(lvals, ltext),
        tickSize={"condition": {"test": MAJOR, "value": 7}, "value": 4},
        title=None, grid=False, labelOverlap=False, labelFlush=False,
        labelPadding=pad, labelFont=FONT, labelFontSize=21, labelColor="black",
        domainColor="black", tickColor="black", tickWidth=1, domainWidth=1,
    )
    if offset is not None:
        kw["labelOffset"] = offset
    return alt.Axis(**kw)


def piece(s, x, y, size=22.5, style="normal", weight="normal", angle=0, align="left"):
    return alt.Chart(pd.DataFrame({"t": [s]})).mark_text(
        font=FONT, fontSize=size, fontStyle=style, fontWeight=weight, angle=angle,
        align=align, baseline="alphabetic", color="black"
    ).encode(text="t:N", x=alt.value(x), y=alt.value(y))


def panel(pts, xdom, width, xaxis, yaxis, lx, ly, tag, tx, ty, rr, rx, ry, extra):
    sx = alt.Scale(type="log", domain=xdom, nice=False)
    sy = alt.Scale(type="log", domain=[1, 10000], nice=False)
    X = alt.X("x:Q", scale=sx, axis=xaxis)
    Y = alt.Y("y:Q", scale=sy, axis=yaxis)
    p = alt.Chart(pd.DataFrame(pts, columns=["x", "y"])).mark_point(
        shape="circle", filled=False, color="black", size=9, strokeWidth=1, opacity=1
    ).encode(x=X, y=Y)
    ln = alt.Chart(pd.DataFrame({"x": lx, "y": ly})).mark_line(
        color="black", strokeWidth=1, clip=True
    ).encode(x=X, y=Y)
    tg = alt.Chart(pd.DataFrame({"x": tx, "y": ty, "t": tag})).mark_text(
        font=FONT, fontSize=25, fontWeight="bold", align="center", baseline="alphabetic", color="black"
    ).encode(x=X, y=Y, text="t:N")
    rc = alt.Chart(pd.DataFrame({"x": rx, "y": ry, "t": rr})).mark_text(
        font=FONT, fontSize=22.5, align="right", baseline="alphabetic", color="black"
    ).encode(x=X, y=Y, text="t:N")
    return alt.layer(p, ln, tg, rc, *extra).properties(width=width, height=H)


# ---------------- axes ----------------
y_axis = make_axis(log_ticks(0, 4), y_label_vals, y_label_text, 9)
x_axis_a = make_axis(
    log_ticks(-4, 2), x_a_label_vals, x_a_label_text, 3,
    offset={"condition": {"test": is_val(0.001), "value": -49}, "value": 0},
)
x_axis_b = make_axis(
    log_ticks(-4, 0), x_b_label_vals, x_b_label_text, 3,
    offset={"condition": [
        {"test": is_val(0.0001), "value": 17},
        {"test": is_val(0.001), "value": 12},
        {"test": is_val(0.01), "value": 8},
    ], "value": 0},
)

# ---------------- titles (real text) ----------------
extra_a = [
    piece(ytitle_parts[0], -77.3, 268, angle=270),
    piece(ytitle_parts[1], -77.3, 145, angle=270, style="italic"),
    piece(ytitle_parts[2], -73.5, 131.5, size=15, angle=270),
    piece(ytitle_parts[3], -77.3, 118, angle=270),
    piece(xtitle_a_parts[0], -12, 413),
    piece(xtitle_a_parts[1], 102, 413, style="italic"),
    piece(xtitle_a_parts[2], 119, 413),
    piece(xtitle_a_parts[3], 253, 413, style="italic"),
    piece(xtitle_a_parts[4], 268.5, 417, size=15, style="italic"),
    piece(xtitle_a_parts[5], 287, 413),
    piece(xtitle_a_parts[6], 347, 398, size=15),
    piece(xtitle_a_parts[7], 363, 413),
]
overline = alt.Chart(pd.DataFrame({"t": [0]})).mark_rule(color="black", strokeWidth=1.2).encode(
    x=alt.value(106.5), x2=alt.value(118), y=alt.value(415.5)
)
top_frame_b = alt.Chart(pd.DataFrame({"t": [0]})).mark_rule(color="black", strokeWidth=1).encode(
    x=alt.value(0), x2=alt.value(W_B), y=alt.value(0)
)
extra_b = [
    top_frame_b,
    piece(xtitle_b_line1, 174, 405.5, size=22, align="center"),
    piece(xtitle_b_parts[0], 106, 428.5, style="italic"),
    overline,
    piece(xtitle_b_parts[1], 121, 430.5, size=13, style="italic"),
    piece(xtitle_b_parts[2], 179, 428.5),
    piece(xtitle_b_parts[3], 205, 420.5, size=13),
    piece(xtitle_b_parts[4], 216.5, 428.5),
]

pa = panel(pts_a + pts_a_core, [0.0001, 100], W_A, x_axis_a, y_axis, line_a_x, line_a_y,
           tag_a, tag_a_x, tag_a_y, r_a, r_a_x, r_a_y, extra_a)
pb = panel(pts_b + pts_b_core, [0.0001, 1], W_B, x_axis_b, y_axis, line_b_x, line_b_y,
           tag_b, tag_b_x, tag_b_y, r_b, r_b_x, r_b_y, extra_b).properties(
    view=alt.ViewBackground(stroke=None)
)

chart = alt.hconcat(pa, pb, spacing=17.5).properties(
    padding={"left": 6, "top": 0, "right": 0, "bottom": 0}
).configure_view(stroke="black", strokeWidth=1)

chart.save("out.html", embed_options={"renderer": "svg", "actions": False})
